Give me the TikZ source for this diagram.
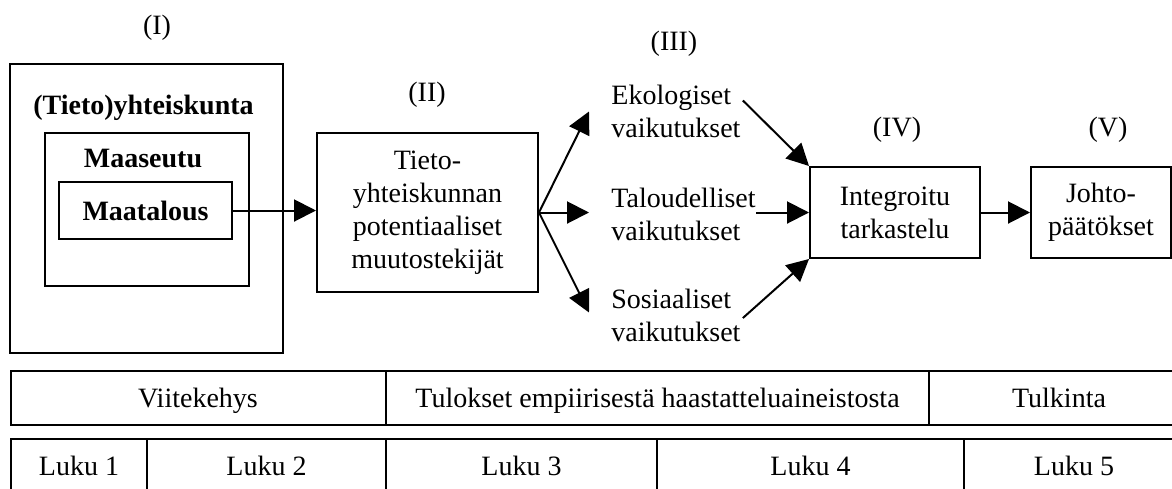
\documentclass[tikz,border=0pt]{standalone}
\usepackage{fontspec}
\setmainfont{Liberation Serif}
\usepackage{tikz}
\usetikzlibrary{arrows.meta,% filled triangle tips
calc}%                        offsets from node anchors
\tikzset{every node/.style={font=\fontsize{14}{16.5}\selectfont, inner sep=0pt},
  box/.style={draw, line width=1pt},
  flow/.style={-{Triangle[length=11pt,width=11pt]}, line width=1pt}}

\begin{document}
\begin{tikzpicture}[x=0.5pt, y=-0.5pt]
  \useasboundingbox (0,0) rectangle (1172,488);
  \clip (0,0) rectangle (1172,488);
  % phase labels
  \foreach\phase/\x/\y in {I/157/28, II/427/95, III/674/44, IV/897/130, V/1108/130}
    \node (lbl\phase) at (\x,\y) {(\phase)};
  % (I) nested context
  \draw[box] (10,64) rectangle (283,353);
  \draw[box] (45,133) rectangle (249,286);
  \node (yhteiskunta) at (143.5,108) {\textbf{(Tieto)yhteiskunta}};
  \node (maaseutu) at (143,158) {\textbf{Maaseutu}};
  \node[box, minimum width=86.5pt, minimum height=28.5pt] (maatalous) at (145.5,210.5) {\textbf{Maatalous}};
  % (II)
  \node[box, align=center, minimum width=110.5pt, minimum height=79.5pt] (ii) at (427.5,212.5)
    {Tieto-\\yhteiskunnan\\potentiaaliset\\muutostekijät};
  % (III)
  \node[anchor=west, align=left] (eko) at (611,111.5) {Ekologiset\\vaikutukset};
  \node[anchor=west, align=left] (tal) at (611,214.5) {Taloudelliset\\vaikutukset};
  \node[anchor=west, align=left] (sos) at (611,315.5) {Sosiaaliset\\vaikutukset};
  % (IV) and (V)
  \node[box, align=center, minimum width=85pt, minimum height=45.5pt] (iv) at (895,212.5) {Integroitu\\tarkastelu};
  \node[box, align=center, minimum width=70pt, minimum height=45.5pt] (v) at (1101,212.5) {Johto-\\päätökset};
  % connectors
  \draw[flow] (maatalous.east) -- (maatalous.east -| ii.west);
  \draw[flow] (ii.east) -- ($(eko.west)+(-22,0)$);
  \draw[flow] (ii.east) -- ($(tal.west)+(-22,-2)$);
  \draw[flow] (ii.east) -- ($(sos.west)+(-22,-3)$);
  \draw[flow] ($(eko.east)+(2,-11)$) -- (iv.north west);
  \draw[flow] (tal.east |- iv.west) -- (iv.west);
  \draw[flow] ($(sos.east)+(2,2.5)$) -- (iv.south west);
  \draw[flow] (iv) -- (v);
  % chapter tables
  \begin{scope}[line width=1pt]
    \draw (10.5,371) rectangle (1189,425);
    \draw (386,371) -- (386,425) (929,371) -- (929,425);
    \draw (10.5,439) rectangle (1189,493);
    \foreach\x in {147,386,657,964} \draw (\x,439) -- (\x,493);
  \end{scope}
  \node[anchor=base] (viite) at (198,407) {Viitekehys};
  \node[anchor=base] (tulokset) at (657.5,407) {Tulokset empiirisestä haastatteluaineistosta};
  \node[anchor=base] (tulkinta) at (1059,407) {Tulkinta};
  \foreach\n/\x in {1/79, 2/266.5, 3/521.5, 4/810.5, 5/1074}
    \node[anchor=base] (luku\n) at (\x,475) {Luku \n};
\end{tikzpicture}
\end{document}
